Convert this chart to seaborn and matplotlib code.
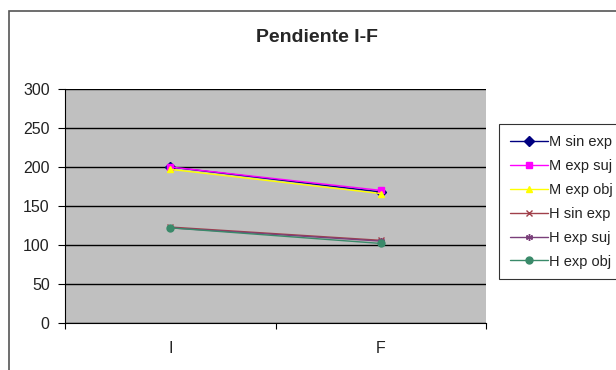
import pandas as pd
import matplotlib.pyplot as plt
import seaborn as sns
from matplotlib.patches import Rectangle

# --- DATA ---
etapas = ["I", "F"]
series = ["M sin exp", "M exp suj", "M exp obj", "H sin exp", "H exp suj", "H exp obj"]
m_sin_exp = [200, 168]
m_exp_suj = [200, 170]
m_exp_obj = [197, 166]
h_sin_exp = [123, 106]
h_exp_suj = [122, 105]
h_exp_obj = [122, 102]

valores = [m_sin_exp, m_exp_suj, m_exp_obj, h_sin_exp, h_exp_suj, h_exp_obj]
colores = ["#000080", "#FF00FF", "#FFFF00", "#A0404A", "#7A3F7A", "#3A8A6A"]
marcadores = ["D", "s", "^", "x", (6, 2, 0), "o"]

rows = []
for s, vals in zip(series, valores):
    for e, v in zip(etapas, vals):
        rows.append({"serie": s, "etapa": e, "valor": v})
df = pd.DataFrame(rows)

sns.set_style("white")
plt.rcParams["font.family"] = ["Liberation Sans", "DejaVu Sans"]

fig = plt.figure(figsize=(6.16, 3.7), dpi=100)
ax = fig.add_axes([65 / 616, 1 - 323 / 370, (486 - 65) / 616, (323 - 89) / 370])
ax.set_facecolor("#C0C0C0")

# one call per series (filled and line-art markers mixed)
for s, c, m in zip(series, colores, marcadores):
    sub = df[df["serie"] == s]
    sns.lineplot(data=sub, x="etapa", y="valor", color=c, marker=m, label=s,
                 sort=False, linewidth=1.0, markersize=5, markeredgecolor=c,
                 markeredgewidth=1.0, ax=ax)

ax.set_ylim(0, 300)
ax.set_yticks(range(0, 301, 50))
ax.set_xlim(-0.5, 1.5)
ax.set_xticks([-0.5, 0.5, 1.5])
ax.set_xticklabels([])
ax.set_xticks([0, 1], minor=True)
ax.set_xticklabels(etapas, minor=True)
ax.tick_params(axis="x", which="major", length=4, width=0.8, color="black", direction="out", bottom=True)
ax.tick_params(axis="x", which="minor", length=0, labelsize=11.5, pad=13, labelcolor="#222222")
ax.tick_params(axis="y", length=5, width=0.8, color="black", direction="out", left=True,
               labelsize=11.5, pad=6, labelcolor="#222222")
ax.grid(axis="y", color="black", linewidth=1.0)
ax.set_axisbelow(True)
for side in ["top", "right"]:
    ax.spines[side].set_visible(False)
for side in ["left", "bottom"]:
    ax.spines[side].set_color("black")
    ax.spines[side].set_linewidth(0.8)
ax.set_xlabel("")
ax.set_ylabel("")

fig.text(317 / 616, 1 - 37 / 370, "Pendiente I-F", ha="center", va="center",
         fontsize=14, fontweight="bold")

handles, labels = ax.get_legend_handles_labels()
if ax.get_legend():
    ax.get_legend().remove()
leg = fig.legend(handles, labels, loc="upper left", bbox_to_anchor=(499 / 616, 1 - 124 / 370),
                 frameon=True, fancybox=False, fontsize=10.5, labelspacing=0.68,
                 handlelength=2.6, handletextpad=0.1, borderpad=0.75, borderaxespad=0,
                 labelcolor="#222222")
leg.get_frame().set_edgecolor("black")
leg.get_frame().set_linewidth(0.8)

fig.patches.append(Rectangle((9 / 616, -0.1), 1.2, 1.1 - 11 / 370, transform=fig.transFigure,
                             fill=False, edgecolor="#555555", linewidth=1.2))

plt.savefig("out.png", dpi=100)
